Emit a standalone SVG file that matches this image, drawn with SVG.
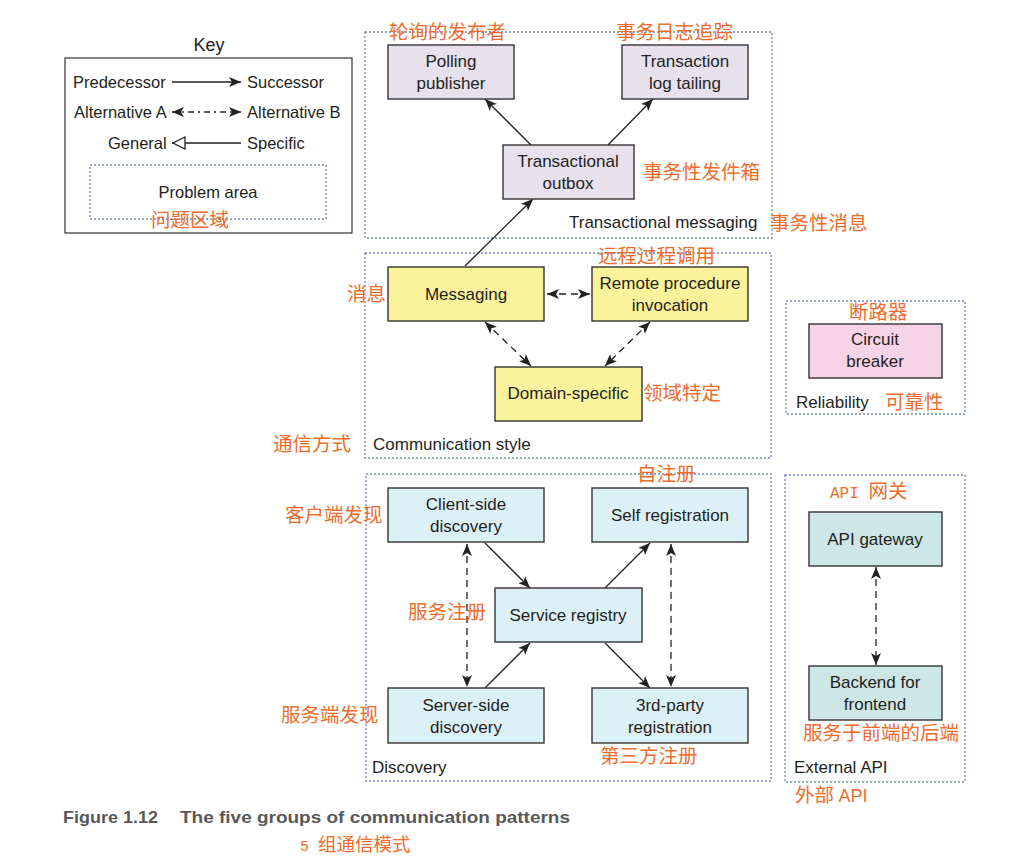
<svg xmlns="http://www.w3.org/2000/svg" width="1016" height="866" viewBox="0 0 1016 866">
<style>
.bg{fill:#fff}
.key{fill:none;stroke:#333;stroke-width:1.2}
.grp{fill:none;stroke:#7086b5;stroke-width:1.3;stroke-dasharray:2 2}
.box{stroke:#333;stroke-width:1.4}
.pur{fill:#e7e1ee}
.yel{fill:#fbf29c}
.pnk{fill:#f7d4e5}
.blu{fill:#dcf0f7}
.tea{fill:#cce7e5}
.t{font-family:"Liberation Sans",Arial,sans-serif;font-size:17px;fill:#231f20}
.m{text-anchor:middle}
.cn{font-family:"Noto Sans CJK SC","Liberation Sans",sans-serif;font-size:19.5px;fill:#ee6c2c}
.mono{font-family:"Liberation Mono","Noto Sans CJK SC",monospace;font-size:16px;fill:#ee6c2c}
.ln{stroke:#222;stroke-width:1.3;fill:none}
.dash{stroke-dasharray:7 5}
.cap{font-family:"Liberation Sans",Arial,sans-serif;font-weight:bold;font-size:17px;fill:#58585a}
</style>
<defs>
<marker id="ah" viewBox="0 0 12 10" refX="12" refY="5" markerWidth="12" markerHeight="10" markerUnits="userSpaceOnUse" orient="auto-start-reverse">
<path d="M0,0 L12,5 L0,10 L3,5 z" fill="#222"/>
</marker>
<marker id="tri" viewBox="0 0 14 14" refX="0" refY="7" markerWidth="14" markerHeight="14" markerUnits="userSpaceOnUse" orient="auto">
<path d="M1,7 L13,1 L13,13 z" fill="#fff" stroke="#222" stroke-width="1.3"/>
</marker>
</defs>
<rect class="bg" x="0" y="0" width="1016" height="866"/>

<g id="key">
<text class="t m" x="209" y="51" style="font-size:18px">Key</text>
<rect class="key" x="65" y="58" width="287" height="175"/>
<text class="t" x="73" y="88" style="font-size:16.5px">Predecessor</text>
<line class="ln" x1="172" y1="82" x2="241" y2="82" marker-end="url(#ah)"/>
<text class="t" x="247" y="88" style="font-size:16.5px">Successor</text>
<text class="t" x="74" y="118" style="font-size:16.5px">Alternative A</text>
<line class="ln" x1="172" y1="112" x2="241" y2="112" stroke-dasharray="6 4 2 4" marker-start="url(#ah)" marker-end="url(#ah)"/>
<text class="t" x="247" y="118" style="font-size:16.5px">Alternative B</text>
<text class="t" x="108" y="149" style="font-size:16.5px">General</text>
<line class="ln" x1="172" y1="143" x2="241" y2="143" marker-start="url(#tri)"/>
<text class="t" x="247" y="149" style="font-size:16.5px">Specific</text>
<rect class="grp" x="90" y="165" width="236" height="54"/>
<text class="t m" x="208" y="198" style="font-size:16.5px">Problem area</text>
<text class="cn" x="151" y="227">问题区域</text>
</g>

<g id="group-transactional-messaging">
<rect class="grp" x="365" y="32" width="407" height="206"/>
<text class="t" x="569" y="228">Transactional messaging</text>
<text class="cn" x="770" y="230">事务性消息</text>
</g>
<g id="group-communication-style">
<rect class="grp" x="365" y="253" width="406" height="205"/>
<text class="t" x="373" y="450">Communication style</text>
<text class="cn" x="273" y="451">通信方式</text>
</g>
<g id="group-reliability">
<rect class="grp" x="786" y="301" width="179" height="113"/>
<text class="t" x="796" y="408">Reliability</text>
<text class="cn" x="885" y="409">可靠性</text>
</g>
<g id="group-discovery">
<rect class="grp" x="366" y="474" width="405" height="307"/>
<text class="t" x="372" y="773">Discovery</text>
</g>
<g id="group-external-api">
<rect class="grp" x="785" y="475" width="180" height="307"/>
<text class="t" x="794" y="773">External API</text>
<text class="cn" x="795" y="802">外部 <tspan style="font-family:'Liberation Sans',Arial,sans-serif;font-size:18px">API</tspan></text>
</g>

<g id="connectors">
<line class="ln" x1="531" y1="145" x2="485" y2="99" marker-end="url(#ah)"/>
<line class="ln" x1="608" y1="145" x2="653" y2="99" marker-end="url(#ah)"/>
<line class="ln" x1="465" y1="266" x2="533" y2="199" marker-end="url(#ah)"/>
<line class="ln dash" x1="547" y1="294" x2="590" y2="294" stroke-dasharray="5 6" marker-start="url(#ah)" marker-end="url(#ah)"/>
<line class="ln dash" x1="485" y1="322" x2="531" y2="366" marker-start="url(#ah)" marker-end="url(#ah)"/>
<line class="ln dash" x1="650" y1="322" x2="605" y2="366" marker-start="url(#ah)" marker-end="url(#ah)"/>
<line class="ln" x1="485" y1="543" x2="530" y2="588" marker-end="url(#ah)"/>
<line class="ln" x1="605" y1="588" x2="650" y2="543" marker-end="url(#ah)"/>
<line class="ln" x1="485" y1="688" x2="530" y2="643" marker-end="url(#ah)"/>
<line class="ln" x1="605" y1="643" x2="650" y2="688" marker-end="url(#ah)"/>
<line class="ln dash" x1="467" y1="544" x2="467" y2="687" marker-start="url(#ah)" marker-end="url(#ah)"/>
<line class="ln dash" x1="671" y1="544" x2="671" y2="687" marker-start="url(#ah)" marker-end="url(#ah)"/>
<line class="ln dash" x1="876" y1="567" x2="876" y2="665" marker-start="url(#ah)" marker-end="url(#ah)"/>
</g>

<g id="polling-publisher">
<rect class="box pur" x="388" y="45" width="126" height="54"/>
<text class="t m" x="451" y="67">Polling</text>
<text class="t m" x="451" y="89">publisher</text>
<text class="cn" x="389" y="39">轮询的发布者</text>
</g>
<g id="transaction-log-tailing">
<rect class="box pur" x="622" y="45" width="126" height="54"/>
<text class="t m" x="685" y="67">Transaction</text>
<text class="t m" x="685" y="89">log tailing</text>
<text class="cn" x="616" y="39">事务日志追踪</text>
</g>
<g id="transactional-outbox">
<rect class="box pur" x="503" y="145" width="131" height="54"/>
<text class="t m" x="568" y="167">Transactional</text>
<text class="t m" x="568" y="189">outbox</text>
<text class="cn" x="643" y="179">事务性发件箱</text>
</g>

<g id="messaging">
<rect class="box yel" x="388" y="267" width="156" height="54"/>
<text class="t m" x="466" y="300">Messaging</text>
<text class="cn" x="347" y="301">消息</text>
</g>
<g id="remote-procedure-invocation">
<rect class="box yel" x="592" y="267" width="156" height="54"/>
<text class="t m" x="670" y="289">Remote procedure</text>
<text class="t m" x="670" y="311">invocation</text>
<text class="cn" x="598" y="263">远程过程调用</text>
</g>
<g id="domain-specific">
<rect class="box yel" x="495" y="367" width="147" height="54"/>
<text class="t m" x="568" y="399">Domain-specific</text>
<text class="cn" x="643" y="400">领域特定</text>
</g>

<g id="circuit-breaker">
<rect class="box pnk" x="809" y="324" width="133" height="54"/>
<text class="t m" x="875" y="345">Circuit</text>
<text class="t m" x="875" y="367">breaker</text>
<text class="cn" x="849" y="319">断路器</text>
</g>

<g id="client-side-discovery">
<rect class="box blu" x="388" y="488" width="156" height="54"/>
<text class="t m" x="466" y="510">Client-side</text>
<text class="t m" x="466" y="532">discovery</text>
<text class="cn" x="285" y="522">客户端发现</text>
</g>
<g id="self-registration">
<rect class="box blu" x="592" y="488" width="156" height="54"/>
<text class="t m" x="670" y="521">Self registration</text>
<text class="cn" x="637" y="481">自注册</text>
</g>
<g id="service-registry">
<rect class="box blu" x="495" y="588" width="147" height="54"/>
<text class="t m" x="568" y="621">Service registry</text>
<text class="cn" x="408" y="619">服务注册</text>
</g>
<g id="server-side-discovery">
<rect class="box blu" x="388" y="688" width="156" height="55"/>
<text class="t m" x="466" y="711">Server-side</text>
<text class="t m" x="466" y="733">discovery</text>
<text class="cn" x="281" y="722">服务端发现</text>
</g>
<g id="third-party-registration">
<rect class="box blu" x="592" y="688" width="156" height="55"/>
<text class="t m" x="670" y="711">3rd-party</text>
<text class="t m" x="670" y="733">registration</text>
<text class="cn" x="600" y="763">第三方注册</text>
</g>

<g id="api-gateway">
<rect class="box tea" x="809" y="512" width="133" height="54"/>
<text class="t m" x="875" y="545">API gateway</text>
<text class="mono" x="830" y="498">API <tspan style="font-family:'Noto Sans CJK SC',sans-serif;font-size:19.5px">网关</tspan></text>
</g>
<g id="backend-for-frontend">
<rect class="box tea" x="809" y="666" width="133" height="54"/>
<text class="t m" x="875" y="688">Backend for</text>
<text class="t m" x="875" y="710">frontend</text>
<text class="cn" x="803" y="740">服务于前端的后端</text>
</g>

<g id="caption">
<text class="cap" x="63" y="823" textLength="95" lengthAdjust="spacingAndGlyphs">Figure 1.12</text>
<text class="cap" x="180" y="823" textLength="390" lengthAdjust="spacingAndGlyphs">The five groups of communication patterns</text>
<text class="mono" x="300" y="851" style="font-size:15px">5 <tspan style="font-family:'Noto Sans CJK SC',sans-serif;font-size:18.5px">组通信模式</tspan></text>
</g>
</svg>
